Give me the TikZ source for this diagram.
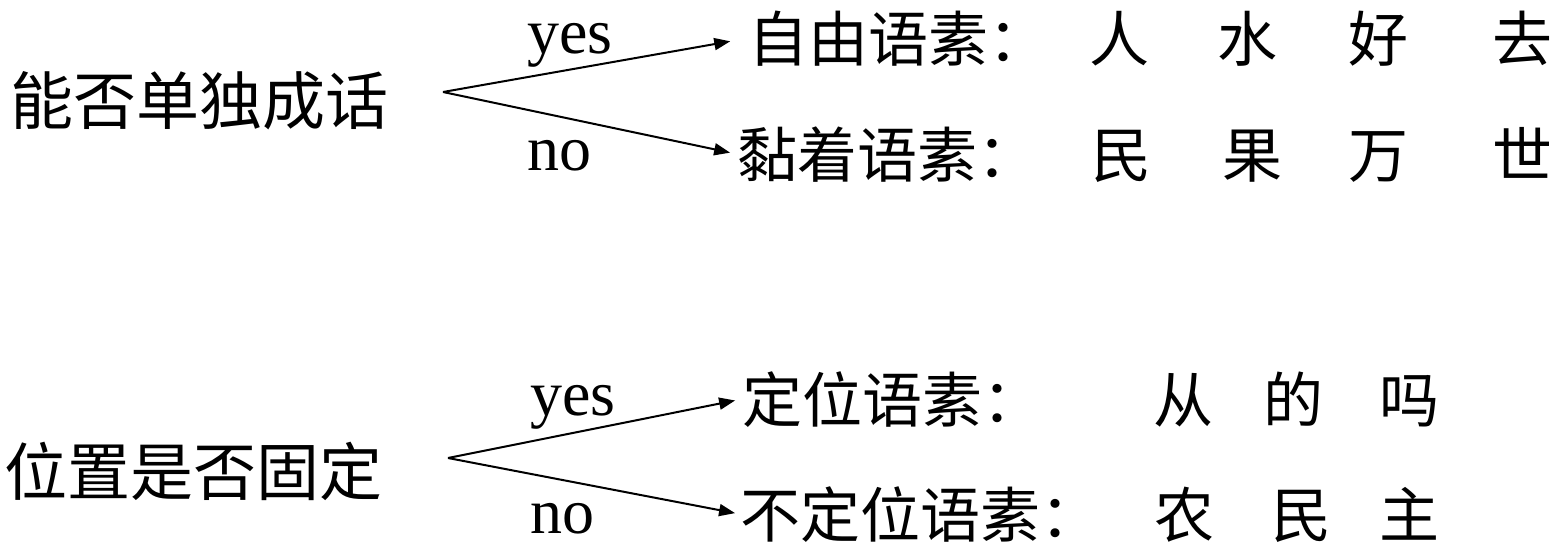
\documentclass[tikz,border=0pt]{standalone}
\usepackage{fontspec}
\setmainfont{Liberation Serif}
\newfontfamily\cjk{Noto Sans CJK SC}
\usetikzlibrary{arrows.meta}
\begin{document}
\begin{tikzpicture}[x=1pt,y=-1pt,
  lbl/.style={inner sep=0pt,anchor=base west,font=\cjk\fontsize{63}{63}\selectfont},
  cat/.style={inner sep=0pt,anchor=base west,font=\cjk\fontsize{60}{60}\selectfont},
  ex/.style={inner sep=0pt,anchor=base,font=\cjk\fontsize{60}{60}\selectfont},
  yn/.style={inner sep=0pt,anchor=base west,text depth=0pt,font=\fontsize{64}{64}\selectfont},
  arr/.style={line width=2pt,-{Triangle[length=16pt,width=12pt]}}]
\useasboundingbox (0,0) rectangle (1555,542);
% top group
\node[lbl] (q1) at (10,124) {能否单独成话};
\coordinate (a1) at (443,92);
\node[cat] (c1) at (748,61) {自由语素：};
\node[cat] (c2) at (737,177) {黏着语素：};
\node[ex] (e11) at (1119,61) {人};
\node[ex] (e12) at (1247,61) {水};
\node[ex] (e13) at (1378,61) {好};
\node[ex] (e14) at (1522,61) {去};
\node[ex] (e21) at (1121,177) {民};
\node[ex] (e22) at (1252,177) {果};
\node[ex] (e23) at (1378,177) {万};
\node[ex] (e24) at (1522,177) {世};
\node[yn] (y1) at (527,53) {yes};
\node[yn] (n1) at (527,170) {no};
\draw[arr,shorten >=18pt] (a1) -- (c1.west);
\draw[arr,shorten >=7pt] (a1) -- (c2.west);
% bottom group
\node[lbl] (q2) at (4,495) {位置是否固定};
\coordinate (a2) at (448,458);
\node[cat] (c3) at (742,422) {定位语素：};
\node[cat] (c4) at (740,537) {不定位语素：};
\node[ex] (e31) at (1183,422) {从};
\node[ex] (e32) at (1293,422) {的};
\node[ex] (e33) at (1409,422) {吗};
\node[ex] (e41) at (1184,537) {农};
\node[ex] (e42) at (1301,537) {民};
\node[ex] (e43) at (1409,537) {主};
\node[yn] (y2) at (530,415) {yes};
\node[yn] (n2) at (530,533) {no};
\draw[arr,shorten >=7pt] (a2) -- (c3.west);
\draw[arr,shorten >=5pt] (a2) -- (c4.west);
\end{tikzpicture}
\end{document}
